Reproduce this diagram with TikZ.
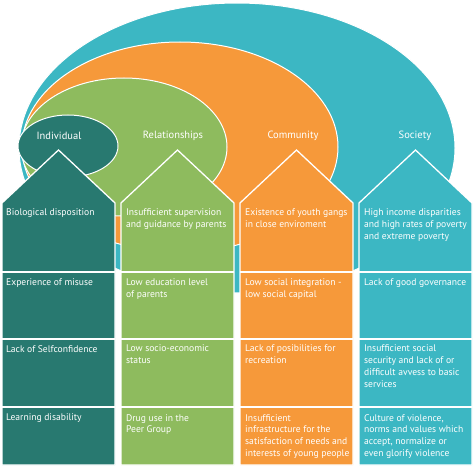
\documentclass[tikz,border=0pt]{standalone}
\usepackage{fontspec}
\setmainfont{PT Sans}
\usetikzlibrary{positioning}

\definecolor{indiv}{RGB}{40,121,112}
\definecolor{relat}{RGB}{142,187,94}
\definecolor{commu}{RGB}{246,153,58}
\definecolor{socie}{RGB}{60,183,195}

\begin{document}
\begin{tikzpicture}[x=1pt, y=-1pt,
    ring/.style = {draw=white, line width=1pt},
    house/.style = {draw=white, line width=1.3pt},
    divider/.style = {draw=white, line width=1.6pt},
    head/.style = {text=white, inner sep=0pt, font=\fontsize{10.5}{12}\selectfont},
    cell/.style = {anchor=north west, text=white, align=left, inner sep=0pt,
                   font=\fontsize{9.6}{11.7}\selectfont}]

  \useasboundingbox (0,0) rectangle (474,468);

  % rings, outer first
  \path[ring, fill=socie] (237,148) ellipse [x radius=218, y radius=145];
  \path[ring, fill=commu] (180,147) ellipse [x radius=158, y radius=105];
  \path[ring, fill=relat] (124,147) ellipse [x radius=103, y radius=69];
  \path[ring, fill=indiv] (68,146) ellipse [x radius=50, y radius=31];

  % ring labels
  \node[head] (lind) at (59,136) {Individual};
  \node[head] (lrel) at (173,136) {Relationships};
  \node[head] (lcom) at (293,136) {Community};
  \node[head] (lsoc) at (415,136) {Society};

  % houses
  \path[house, fill=indiv] (2,465) -- (2,203) -- (58.5,150) -- (115,203) -- (115,465) -- cycle;
  \path[house, fill=relat] (121,465) -- (121,203) -- (177.5,150) -- (234,203) -- (234,465) -- cycle;
  \path[house, fill=commu] (240,465) -- (240,203) -- (296.5,150) -- (353,203) -- (353,465) -- cycle;
  \path[house, fill=socie] (359,465) -- (359,203) -- (415.5,150) -- (472,203) -- (472,465) -- cycle;

  % row dividers
  \foreach \y in {272,339,407} {
    \draw[divider] (2,\y) -- (115,\y);
    \draw[divider] (121,\y) -- (234,\y);
    \draw[divider] (240,\y) -- (353,\y);
    \draw[divider] (359,\y) -- (472,\y);
  }

  % individual
  \node[cell] (bio) at (6,209) {Biological disposition};
  \node[cell] (mis) at (6,279) {Experience of misuse};
  \node[cell] (self) at (6,345) {Lack of Selfconfidence};
  \node[cell] (learn) at (6,414) {Learning disability};

  % relationships
  \node[cell] (superv) at (126,209) {Insufficient supervision\\and guidance by parents};
  \node[cell] (edu) at (126,279) {Low education level\\of parents};
  \node[cell] (status) at (126,345) {Low socio-economic\\status};
  \node[cell] (drug) at (126,414) {Drug use in the\\Peer Group};

  % community
  \node[cell] (gang) at (245,209) {Existence of youth gangs\\in close enviroment};
  \node[cell] (integ) at (245,279) {Low social integration -\\low social capital};
  \node[cell] (recr) at (245,345) {Lack of posibilities for\\recreation};
  \node[cell] (infra) at (245,414) {Insufficient\\infrastructure for the\\satisfaction of needs and\\interests of young people};

  % society
  \node[cell] (income) at (364,209) {High income disparities\\and high rates of poverty\\and extreme poverty};
  \node[cell] (gov) at (364,279) {Lack of good governance};
  \node[cell] (secur) at (364,345) {Insufficient social\\security and lack of or\\difficult avvess to basic\\services};
  \node[cell] (cult) at (364,414) {Culture of violence,\\norms and values which\\accept, normalize or\\even glorify violence};
\end{tikzpicture}
\end{document}
